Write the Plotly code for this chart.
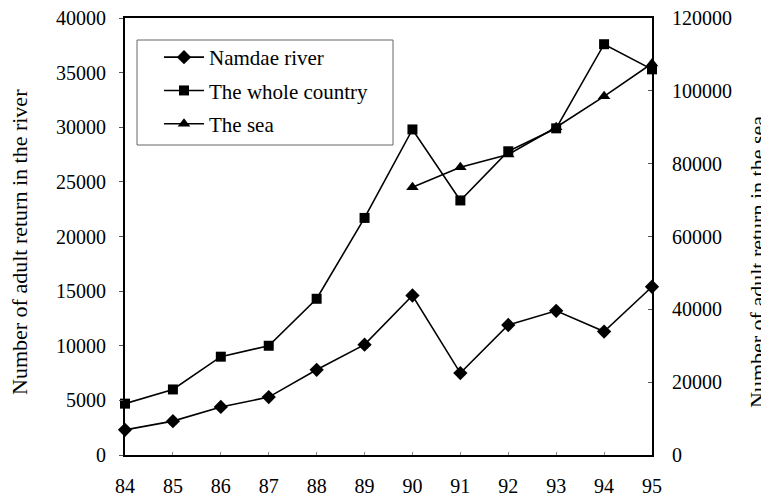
import plotly.graph_objects as go

years = [84, 85, 86, 87, 88, 89, 90, 91, 92, 93, 94, 95]
namdae_river = [2300, 3100, 4400, 5300, 7800, 10100, 14600, 7500, 11900, 13200, 11300, 15400]
whole_country = [4700, 6000, 9000, 10000, 14300, 21700, 29800, 23300, 27800, 29900, 37600, 35300]
sea_years = [90, 91, 92, 93, 94, 95]
the_sea = [73500, 79000, 82500, 90000, 98500, 107500]

FONT = "Liberation Serif"

# figure coordinates (page body adds an 8px offset)
W, H = 761, 491
L, R, T, B = 117, 117, 10, 44
PW, PH = W - L - R, H - T - B


def px(x):
    return (x - L) / PW


def py(y):
    return (H - B - y) / PH


fig = go.Figure()
fig.add_trace(go.Scatter(
    x=years, y=namdae_river, name="Namdae river", mode="lines+markers",
    line=dict(color="black", width=1.6),
    marker=dict(symbol="diamond", size=11, color="black"),
    cliponaxis=False, legendgroup="a"))
fig.add_trace(go.Scatter(
    x=years, y=whole_country, name="The whole country", mode="lines+markers",
    line=dict(color="black", width=1.6),
    marker=dict(symbol="square", size=10, color="black"),
    cliponaxis=False, legendgroup="b"))
fig.add_trace(go.Scatter(
    x=sea_years, y=the_sea, name="The sea", mode="lines+markers", yaxis="y2",
    line=dict(color="black", width=1.6),
    marker=dict(symbol="triangle-up", size=11, color="black"),
    cliponaxis=False, legendgroup="c"))

fig.update_layout(
    width=W, height=H,
    margin=dict(l=L, r=R, t=T, b=B, autoexpand=False),
    paper_bgcolor="white", plot_bgcolor="white",
    font=dict(family=FONT, size=20, color="black"),
    showlegend=True,
    legend=dict(
        x=px(151), y=py(29), xanchor="left", yanchor="top",
        bgcolor="rgba(0,0,0,0)", borderwidth=0,
        font=dict(family=FONT, size=21, color="black"),
        tracegroupgap=3, itemwidth=40,
    ),
    shapes=[dict(type="rect", xref="paper", yref="paper",
                 x0=px(129), x1=px(385), y0=py(137), y1=py(32),
                 line=dict(color="#666666", width=1), fillcolor="white", layer="below")],
    xaxis=dict(
        range=[84, 95], tickmode="array", tickvals=years,
        ticktext=[str(y) for y in years], automargin=False,
        showgrid=False, zeroline=False,
        showline=True, linecolor="black", linewidth=2, mirror=True,
        ticks="inside", ticklen=3, tickcolor="#888888",
        ticklabelstandoff=12, ticklabeloverflow="allow",
    ),
    yaxis=dict(
        range=[0, 40000], dtick=5000, tickformat="d", automargin=False,
        showgrid=False, zeroline=False,
        showline=True, linecolor="black", linewidth=2,
        ticks="outside", ticklen=4, tickcolor="#555555",
        ticklabelstandoff=9, ticklabeloverflow="allow",
    ),
    yaxis2=dict(
        range=[0, 120000], dtick=20000, tickformat="d", automargin=False,
        overlaying="y", side="right",
        showgrid=False, zeroline=False,
        showline=True, linecolor="black", linewidth=2,
        ticks="inside", ticklen=4, tickcolor="#555555",
        ticklabelstandoff=14, ticklabeloverflow="allow",
    ),
    annotations=[
        dict(text="Number of adult return in the river", xref="paper", yref="paper",
             x=px(11), y=py(234), xanchor="center", yanchor="middle",
             textangle=-90, showarrow=False, font=dict(family=FONT, size=22, color="black")),
        dict(text="Number of adult return in the sea", xref="paper", yref="paper",
             x=px(749), y=py(254), xanchor="center", yanchor="middle",
             textangle=-90, showarrow=False, font=dict(family=FONT, size=22, color="black")),
    ],
)

fig.write_html("out.html")
